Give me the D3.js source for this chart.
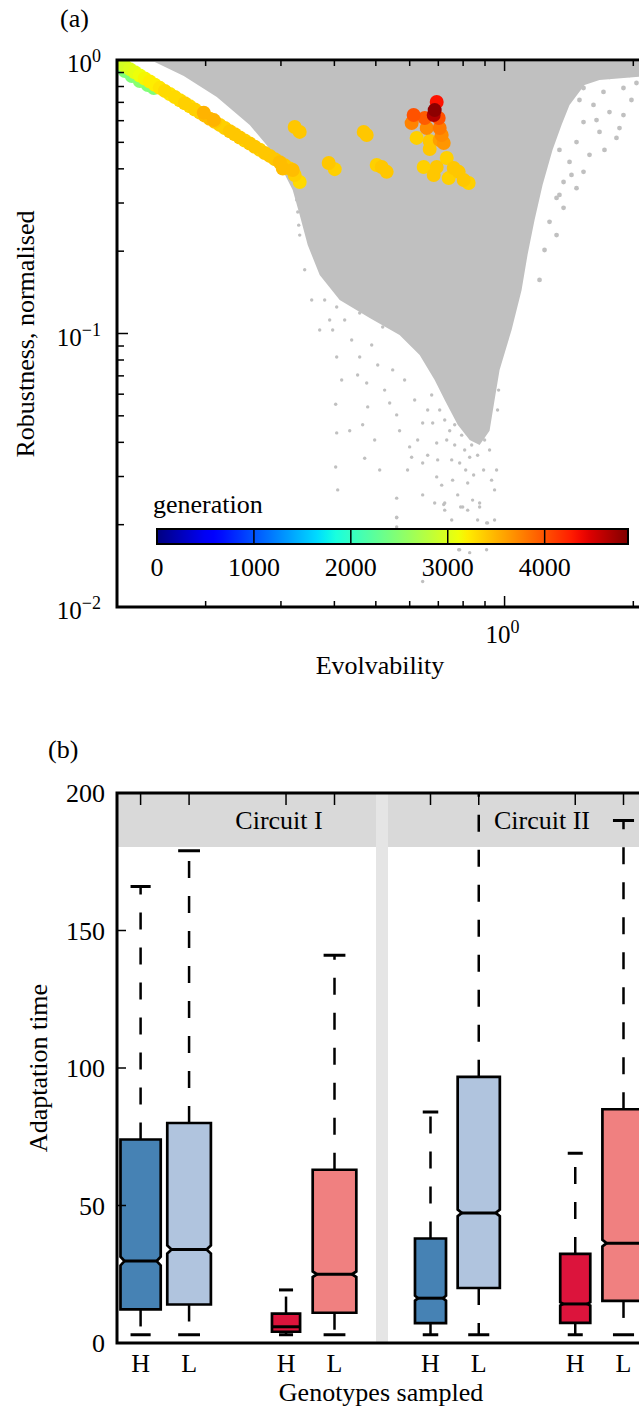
<!DOCTYPE html>
<html><head><meta charset="utf-8">
<script src="https://cdn.jsdelivr.net/npm/d3@7"></script>
<style>
body{margin:0;background:#fff;}
text{font-family:"Liberation Serif","Times New Roman",serif;fill:#000;}
</style></head><body>
<svg id="chart" width="639" height="1412" font-family="Liberation Serif, Times New Roman, serif"></svg>
<script>
// ================= Panel (a) data =================
const evoDomain = [0.1241, 2.818];
const robDomain = [0.01, 1];
const genMax = 4860;
const genTicks = [0, 1000, 2000, 3000, 4000];

// evolutionary walk (coloured by generation)
const walkEvo = [
  0.1260,0.1295,0.1330,0.1366,0.1403,0.1441,0.1481,0.1521,0.1562,0.1605,0.1649,0.1694,0.1741,0.1788,0.1837,0.1887,0.1939,0.1991,0.2045,0.2101,0.2158,0.2217,0.2278,0.2340,0.2403,0.2469,0.2536,0.2605,0.2677,0.2750,0.2825,0.2902,0.2981,0.3062,0.3145,0.3230,0.3319,
  0.1980,0.2090,0.3030,0.3196,
  0.1247,0.1295,0.1344,0.1403,0.1465,0.1513,
  0.3230,0.3319,0.3879,0.4007,0.4684,0.4760,0.5024,0.5161,0.5301,0.6229,0.6682,0.6682,0.6469,0.6828,0.6939,0.7324,0.7604,0.7811,0.7403,0.8024,0.8242,
  0.6129,0.6063,0.6504,0.6575,0.6939,0.6864,0.6828,0.7014,0.7052,0.7128,0.7206,0.7052
];
const walkRob = [
  0.975,0.950,0.926,0.902,0.878,0.856,0.834,0.812,0.791,0.771,0.751,0.732,0.713,0.695,0.677,0.659,0.642,0.626,0.610,0.594,0.579,0.564,0.549,0.535,0.521,0.508,0.495,0.482,0.470,0.457,0.446,0.434,0.423,0.412,0.401,0.380,0.358,
  0.642,0.603,0.401,0.396,
  0.951,0.912,0.874,0.838,0.810,0.790,
  0.569,0.546,0.420,0.399,0.546,0.532,0.413,0.406,0.390,0.519,0.506,0.473,0.406,0.380,0.406,0.438,0.403,0.390,0.370,0.364,0.355,
  0.629,0.588,0.614,0.564,0.702,0.656,0.629,0.614,0.564,0.532,0.497,0.510
];
const walkGen = [
  2900,2950,3000,3050,3100,3150,3200,3200,3250,3300,3250,3300,3300,3350,3300,3350,3350,3450,3450,3400,3350,3350,3400,3400,3400,3350,3400,3400,3350,3400,3400,3400,3450,3400,3350,3350,3300,
  3500,3500,3450,3450,
  2400,2450,2450,2500,2450,2450,
  3400,3400,3400,3350,3400,3400,3350,3400,3400,3350,3400,3400,3350,3400,3400,3350,3400,3400,3350,3400,3350,
  4000,3750,3950,3700,4330,4800,4650,4000,3800,3700,3650,3600
];

// outline of the dense grey cloud of all genotypes
const cloudEvo = [0.1521,2.8,2.8,1.6672,1.5379,1.4186,1.3590,1.2945,1.2270,1.1752,1.1317,1.0957,1.0384,0.9734,0.9476,0.9224,0.8743,0.8287,0.7770,0.7245,0.6864,0.6331,0.5682,0.4838,0.4116,0.3696,0.3465,0.3319,0.3196,0.2902,0.2536,0.2124,0.1778];
const cloudRob = [0.983,0.983,0.904,0.845,0.810,0.685,0.579,0.469,0.349,0.260,0.194,0.144,0.103,0.0736,0.0571,0.0441,0.0391,0.0408,0.0464,0.0571,0.0676,0.0834,0.0988,0.1139,0.1326,0.1636,0.2107,0.2712,0.335,0.450,0.579,0.732,0.874];

// sparse grey genotypes outside the dense cloud
const sparseEvo = [
  0.3266,0.3284,0.3301,0.3319,
  0.3900,0.3900,0.4050,0.4274,0.4510,0.4584,0.4838,0.5024,0.5188,0.5301,
  0.3900,0.4050,0.4028,0.4050,0.4028,0.4072,0.4584,0.4658,0.4709,0.4760,0.4786,0.5387,0.5594,0.5594,0.5594,0.5998,0.6063,0.6434,0.6434,0.6434,0.6791,0.6939,0.6939,0.7245,0.7245,0.7442,0.7853,0.7853,0.7981,0.8199,0.8287,0.8603,0.8743,0.8884,0.9077,0.9077,0.9224,0.9476,0.9579,0.9630,0.9683,0.9840,0.9893,1.0163,1.0440,1.0667,0.6434,0.7853,0.8287,0.5594,
  0.5594,0.6864,0.7206,0.7895,0.8199,0.8743,0.7811,0.9126,
  0.7245,0.7442,0.7645,0.7938,0.8199,0.8511,0.8743,0.8980,0.7645,0.8067,0.8376,0.8649,0.7324,0.7523,0.8111,0.8466,0.8932,0.7052,0.8287,0.9126,
  0.3796,0.3963,0.4228,0.4390,0.4533,0.4890,0.5051,0.5243,0.5475,0.5682,0.5838,0.5932,0.6163,0.6263,0.6610,0.6610,0.6754,0.6975,0.7128,0.7560,0.7770,0.8418,0.8649,0.9325,0.9476,0.8838,0.8111,0.7523,1.0,1.0273,1.0553,0.3696,0.3540,0.3409,0.4160,0.4344,0.4969,0.5105
];
const sparseRob = [
  0.308,0.278,0.249,0.229,
  0.1905,0.153,0.125,0.171,0.144,0.1188,0.161,0.1326,0.1056,0.1905,
  0.112,0.0820,0.0551,0.0433,0.0325,0.0268,0.0820,0.0464,0.0350,0.0659,0.0539,0.0557,0.0504,0.0250,0.0213,0.0385,0.0353,0.0471,0.0336,0.0257,0.0471,0.0398,0.0299,0.0240,0.0226,0.0557,0.0495,0.0336,0.0232,0.0284,0.0353,0.0418,0.0240,0.0495,0.0203,0.0162,0.0375,0.0268,0.0317,0.0525,0.0621,0.0870,0.115,0.122,0.153,0.181,0.0124,0.0162,0.0158,0.0196,
  0.0212,0.0240,0.0237,0.0232,0.0226,0.0232,0.0162,0.0203,
  0.0483,0.0441,0.0464,0.0425,0.0451,0.0483,0.0441,0.0408,0.0391,0.0375,0.0391,0.0359,0.0408,0.0345,0.0317,0.0304,0.0317,0.0525,0.0525,0.0483,
  0.1326,0.103,0.112,0.0947,0.0705,0.0908,0.0767,0.0621,0.0736,0.0441,0.0676,0.0317,0.0571,0.0408,0.0525,0.0359,0.0596,0.0345,0.0279,0.0291,0.0257,0.0246,0.0208,0.0291,0.0208,0.0176,0.0191,0.0208,0.103,0.1326,0.171,0.103,0.1326,0.171,0.0676,0.0441,0.0408,0.0317
];
// arc-shaped streaks of grey genotypes at high evolvability
const arcEvo = [1.5798,1.7591,1.9591,1.5296,1.7033,1.8967,2.0343,1.6140,1.7591,1.8967,1.5296,1.6672,1.8266,1.4730,1.5798,1.4186,1.5296,1.3738,1.4730,1.3229,1.3738,1.2738,1.3229,
  1.4186,1.4966,1.6406,1.7125,1.4337,1.3437,1.2401,1.2071,1.9801,1.8565,1.3437];
const arcRob = [0.860,0.867,0.882,0.790,0.764,0.790,0.824,0.685,0.645,0.629,0.593,0.546,0.519,0.501,0.450,0.424,0.390,0.358,0.340,0.313,0.288,0.256,0.229,
  0.777,0.714,0.603,0.469,0.380,0.321,0.202,0.157,0.714,0.564,0.469];

// ================= Panel (b) data =================
const circuits = ["Circuit I","Circuit II"];
const slotOrder = ["A-H","A-L","gap","B-H","B-L"];
const boxCircuit = ["Circuit I","Circuit I","Circuit I","Circuit I","Circuit II","Circuit II","Circuit II","Circuit II"];
const boxSet = ["A","A","B","B","A","A","B","B"];
const boxGenotype = ["H","L","H","L","H","L","H","L"];
const whiskerLow = [3,3,3,3,3,3,3,3];
const q1 = [12.2,14,4.1,11,7.2,20,7.3,15.3];
const median = [29.8,34,5.9,25,16.3,47.3,14.2,36.3];
const q3 = [74,80,10.7,63,38,96.8,32.4,85];
const whiskerHigh = [166,179,19.3,141,84,215,69,190];
const notchHalf = [1.6,1.5,0,1.0,0.9,1.2,0.6,1.2];
const adaptTicks = [0,50,100,150,200];

// ---- styles / layout ----
const boxRelWidth = [0.83,0.9,0.58,0.9,0.64,0.87,0.62,0.87];
const boxFill = {"A-H":"#4682b4","A-L":"#b0c4de","B-H":"#dc143c","B-L":"#f08080"};
const facetSlotRange = {"Circuit I":[140.6,334.5],"Circuit II":[430.5,623.5]};

function jet(t){
  t = Math.max(0, Math.min(1, t));
  const r = t<0.35?0 : t<0.66?(t-0.35)/0.31 : t<0.89?1 : 1-0.5*(t-0.89)/0.11;
  const g = t<0.125?0 : t<0.375?(t-0.125)/0.25 : t<0.64?1 : t<0.91?1-(t-0.64)/0.27 : 0;
  const b = t<0.11?0.5+0.5*t/0.11 : t<0.34?1 : t<0.65?1-(t-0.34)/0.31 : 0;
  return d3.rgb(r*255, g*255, b*255).formatHex();
}

const svg = d3.select("#chart");
svg.append("rect").attr("width",639).attr("height",1412).attr("fill","#fff");
const defs = svg.append("defs");

// ================= Panel (a) =================
const A = {left:117, right:697, top:60, bottom:607};
const xA = d3.scaleLog().domain(evoDomain).range([A.left, A.right]);
const yA = d3.scaleLog().domain(robDomain).range([A.bottom, A.top]);
defs.append("clipPath").attr("id","clipA").append("rect")
  .attr("x",A.left).attr("y",A.top).attr("width",A.right-A.left).attr("height",A.bottom-A.top);
const gA = svg.append("g").attr("clip-path","url(#clipA)");

gA.append("path")
  .datum(d3.range(cloudEvo.length))
  .attr("d", d3.line().x(i=>xA(cloudEvo[i])).y(i=>yA(cloudRob[i])).curve(d3.curveLinearClosed))
  .attr("fill","#c0c0c0");

gA.selectAll("circle.sp").data(d3.range(sparseEvo.length)).join("circle")
  .attr("class","sp").attr("cx",i=>xA(sparseEvo[i])).attr("cy",i=>yA(sparseRob[i]))
  .attr("r",1.7).attr("fill","#c0c0c0");
gA.selectAll("circle.arc").data(d3.range(arcEvo.length)).join("circle")
  .attr("class","arc").attr("cx",i=>xA(arcEvo[i])).attr("cy",i=>yA(arcRob[i]))
  .attr("r",2.4).attr("fill","#c0c0c0");

const walkIdx = d3.range(walkEvo.length).sort((a,b)=>walkGen[a]-walkGen[b]);
gA.selectAll("circle.w").data(walkIdx).join("circle")
  .attr("class","w").attr("cx",i=>xA(walkEvo[i])).attr("cy",i=>yA(walkRob[i]))
  .attr("r",7).attr("fill",i=>jet(walkGen[i]/genMax));

// colour bar
const CB = {x0:157, x1:628, y0:529, y1:544};
const gScale = d3.scaleLinear().domain([0,genMax]).range([CB.x0, CB.x1]);
const grad = defs.append("linearGradient").attr("id","jetGrad").attr("x1","0%").attr("x2","100%");
d3.range(0,1.0001,0.02).forEach(o=>grad.append("stop").attr("offset",o).attr("stop-color",jet(o)));
svg.append("rect").attr("x",CB.x0).attr("y",CB.y0).attr("width",CB.x1-CB.x0).attr("height",CB.y1-CB.y0)
  .attr("fill","url(#jetGrad)").attr("stroke","#000").attr("stroke-width",2);
svg.selectAll("line.cbdiv").data(genTicks.filter(d=>d>0)).join("line").attr("class","cbdiv")
  .attr("x1",d=>gScale(d)).attr("x2",d=>gScale(d)).attr("y1",CB.y0).attr("y2",CB.y1)
  .attr("stroke","#000").attr("stroke-width",1.5);
svg.selectAll("text.cbl").data(genTicks).join("text").attr("class","cbl")
  .attr("x",d=>gScale(d)).attr("y",576).attr("text-anchor","middle").attr("font-size",26).text(d=>d);
svg.append("text").attr("x",153).attr("y",513).attr("font-size",26).text("generation");

// frame and ticks (a)
svg.append("path").attr("d",`M${A.right},${A.top}H${A.left}V${A.bottom}H${A.right}`)
  .attr("fill","none").attr("stroke","#000").attr("stroke-width",3);
const isMajor = t => Math.abs(Math.log10(t)-Math.round(Math.log10(t)))<1e-9;
const xt = xA.ticks().filter(t=>t>=evoDomain[0]&&t<=evoDomain[1]);
xt.forEach(t=>{
  const L = isMajor(t)?11:6, x = xA(t);
  svg.append("line").attr("x1",x).attr("x2",x).attr("y1",A.bottom).attr("y2",A.bottom-L).attr("stroke","#000").attr("stroke-width",1.5);
  svg.append("line").attr("x1",x).attr("x2",x).attr("y1",A.top).attr("y2",A.top+L).attr("stroke","#000").attr("stroke-width",1.5);
});
yA.ticks().forEach(t=>{
  const L = isMajor(t)?11:7, y = yA(t);
  svg.append("line").attr("x1",A.left).attr("x2",A.left+L).attr("y1",y).attr("y2",y).attr("stroke","#000").attr("stroke-width",1.5);
});
function powLabel(x, y, exp, anchor){
  const t = svg.append("text").attr("x",x).attr("y",y).attr("text-anchor",anchor).attr("font-size",25);
  t.append("tspan").text("10");
  t.append("tspan").attr("dy",-10).attr("font-size",18).text(exp);
  return t;
}
yA.ticks().filter(isMajor).forEach(t=>{
  const e = Math.round(Math.log10(t));
  powLabel(101, yA(t)+12, e<0?("\u2212"+(-e)):String(e), "end");
});
xt.filter(isMajor).forEach(t=>{
  const e = Math.round(Math.log10(t));
  powLabel(xA(t)-2, 643, String(e), "middle");
});
svg.append("text").attr("x",380).attr("y",674).attr("text-anchor","middle").attr("font-size",26).text("Evolvability");
svg.append("text").attr("transform","translate(34,334) rotate(-90)").attr("text-anchor","middle").attr("font-size",26).text("Robustness, normalised");
svg.append("text").attr("x",60).attr("y",27).attr("font-size",26).text("(a)");

// ================= Panel (b) =================
const B = {left:117, right:700, top:793, bottom:1343, stripBottom:847, sepL:376, sepR:388};
const yB = d3.scaleLinear().domain([0,200]).range([B.bottom, B.top]);
const slotScale = {};
circuits.forEach(c=>{ slotScale[c] = d3.scalePoint().domain(slotOrder).range(facetSlotRange[c]); });
const step = slotScale["Circuit I"].step();

svg.append("rect").attr("x",B.left).attr("y",B.top).attr("width",B.sepL-B.left).attr("height",B.stripBottom-B.top).attr("fill","#d9d9d9");
svg.append("rect").attr("x",B.sepR).attr("y",B.top).attr("width",B.right-B.sepR).attr("height",B.stripBottom-B.top).attr("fill","#d9d9d9");
svg.append("rect").attr("x",B.sepL).attr("y",B.top).attr("width",B.sepR-B.sepL).attr("height",B.bottom-B.top).attr("fill","#e5e5e5");

defs.append("clipPath").attr("id","clipB").append("rect")
  .attr("x",B.left).attr("y",B.top).attr("width",B.right-B.left).attr("height",B.bottom-B.top);
const gB = svg.append("g").attr("clip-path","url(#clipB)");

d3.range(q1.length).forEach(i=>{
  const key = boxSet[i]+"-"+boxGenotype[i];
  const cx = slotScale[boxCircuit[i]](key);
  const w = boxRelWidth[i]*step;
  const x0 = cx-w/2, x1 = cx+w/2, nx = notchHalf[i]>0 ? w*0.1 : 0;
  gB.append("line").attr("x1",cx).attr("x2",cx).attr("y1",yB(q3[i])).attr("y2",yB(whiskerHigh[i]))
    .attr("stroke","#000").attr("stroke-width",2.5).attr("stroke-dasharray","17,18");
  gB.append("line").attr("x1",cx).attr("x2",cx).attr("y1",yB(q1[i])).attr("y2",yB(whiskerLow[i]))
    .attr("stroke","#000").attr("stroke-width",2.5).attr("stroke-dasharray","17,18");
  [whiskerHigh[i], whiskerLow[i]].forEach(v=>{
    gB.append("line").attr("x1",cx-w/4).attr("x2",cx+w/4).attr("y1",yB(v)).attr("y2",yB(v))
      .attr("stroke","#000").attr("stroke-width",3);
  });
  const yq1=yB(q1[i]), yq3=yB(q3[i]), ym=yB(median[i]);
  const nu = yB(median[i]+notchHalf[i]), nl = yB(median[i]-notchHalf[i]);
  const p = d3.path();
  p.moveTo(x0,yq3); p.lineTo(x1,yq3);
  if(nx>0){ p.lineTo(x1,nu); p.lineTo(x1-nx,ym); p.lineTo(x1,nl); }
  p.lineTo(x1,yq1); p.lineTo(x0,yq1);
  if(nx>0){ p.lineTo(x0,nl); p.lineTo(x0+nx,ym); p.lineTo(x0,nu); }
  p.closePath();
  gB.append("path").attr("d",p.toString()).attr("fill",boxFill[key]).attr("stroke","#000").attr("stroke-width",2.7).attr("stroke-linejoin","miter");
  gB.append("line").attr("x1",x0+nx).attr("x2",x1-nx).attr("y1",ym).attr("y2",ym).attr("stroke","#000").attr("stroke-width",3);
  svg.append("line").attr("x1",cx).attr("x2",cx).attr("y1",B.top).attr("y2",B.top+12).attr("stroke","#000").attr("stroke-width",1.5);
  svg.append("text").attr("x",cx).attr("y",1372).attr("text-anchor","middle").attr("font-size",26).text(boxGenotype[i]);
});

svg.append("path").attr("d",`M${B.right},${B.top}H${B.left}V${B.bottom}H${B.right}`)
  .attr("fill","none").attr("stroke","#000").attr("stroke-width",3);
adaptTicks.forEach(t=>{
  svg.append("line").attr("x1",B.left).attr("x2",B.left+9).attr("y1",yB(t)).attr("y2",yB(t)).attr("stroke","#000").attr("stroke-width",1.5);
  svg.append("text").attr("x",105).attr("y",yB(t)+9).attr("text-anchor","end").attr("font-size",26).text(t);
});
svg.append("text").attr("x",279).attr("y",829).attr("text-anchor","middle").attr("font-size",26).text("Circuit I");
svg.append("text").attr("x",542).attr("y",829).attr("text-anchor","middle").attr("font-size",26).text("Circuit II");
svg.append("text").attr("x",381).attr("y",1401).attr("text-anchor","middle").attr("font-size",26).text("Genotypes sampled");
svg.append("text").attr("transform","translate(47,1068) rotate(-90)").attr("text-anchor","middle").attr("font-size",26).text("Adaptation time");
svg.append("text").attr("x",48).attr("y",758).attr("font-size",26).text("(b)");
</script>
</body></html>
